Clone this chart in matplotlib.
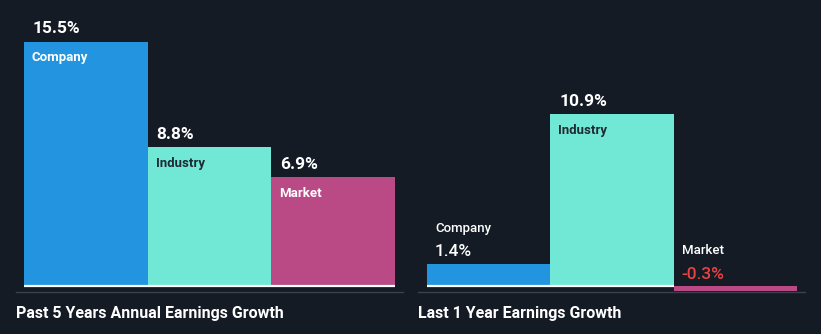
import matplotlib
matplotlib.use("Agg")
import matplotlib.pyplot as plt
from matplotlib.lines import Line2D

BG = "#151b25"
SEP = "#3b414a"
NEG = "#e84242"

categories = ["Company", "Industry", "Market"]
colors = ["#2394df", "#71e8d6", "#b94a86"]
name_colors = ["white", "#1e2a33", "white"]

past_5y = [15.5, 8.8, 6.9]
last_1y = [1.4, 10.9, -0.3]
titles = ["Past 5 Years Annual Earnings Growth", "Last 1 Year Earnings Growth"]

W, H = 821, 334
PX = 0.72          # points per pixel at dpi 100
YMAX, YMIN = 16.26, -0.635
SHORT = 4.0        # bars lower than this get both labels above them

plt.rcParams["font.family"] = ["Roboto", "DejaVu Sans"]
fig = plt.figure(figsize=(W / 100, H / 100), dpi=100, facecolor=BG)


def panel(x0, x1, values, title, sep0, sep1):
    # axes in pixel space: top 30px, bottom 296px
    ax = fig.add_axes([x0 / W, (H - 296) / H, (x1 - x0) / W, 266 / H])
    ax.set_xlim(-0.5, 2.5)
    ax.set_ylim(YMIN, YMAX)
    ax.axis("off")
    ax.set_facecolor(BG)
    ax.bar(range(3), values, width=1.0, color=colors, linewidth=0)
    for i, (v, name) in enumerate(zip(values, categories)):
        if v >= 0:
            ax.hlines(0, i - 0.5, i + 0.5, color="white", lw=1.6, zorder=3)
        txt = f"{v:.1f}%"
        vcol = NEG if v < 0 else "white"
        top = max(v, 0)
        if v >= SHORT:
            ax.annotate(txt, (i - 0.5, top), xytext=(9 * PX, 8.5 * PX),
                        textcoords="offset points", ha="left", va="baseline",
                        fontsize=12.5, fontweight="bold", color=vcol)
            ax.annotate(name, (i - 0.5, top), xytext=(8 * PX, -19.5 * PX),
                        textcoords="offset points", ha="left", va="baseline",
                        fontsize=9.5, fontweight="bold", color=name_colors[i])
        else:
            ax.annotate(txt, (i - 0.5, top), xytext=(8 * PX, 7.5 * PX),
                        textcoords="offset points", ha="left", va="baseline",
                        fontsize=12.5, fontweight="medium", color=vcol)
            ax.annotate(name, (i - 0.5, top), xytext=(8 * PX, 32 * PX),
                        textcoords="offset points", ha="left", va="baseline",
                        fontsize=9.5, fontweight="medium", color="white")
    fig.add_artist(Line2D([sep0 / W, sep1 / W], [(H - 292) / H] * 2,
                          color=SEP, lw=1.0, transform=fig.transFigure))
    fig.text(sep0 / W, (H - 318) / H, title, ha="left", va="baseline",
             fontsize=11.5, fontweight="bold", color="white")


panel(24, 395, past_5y, titles[0], 16, 403)
panel(427, 797, last_1y, titles[1], 418, 805)

fig.savefig("out.png", dpi=100, facecolor=BG)
